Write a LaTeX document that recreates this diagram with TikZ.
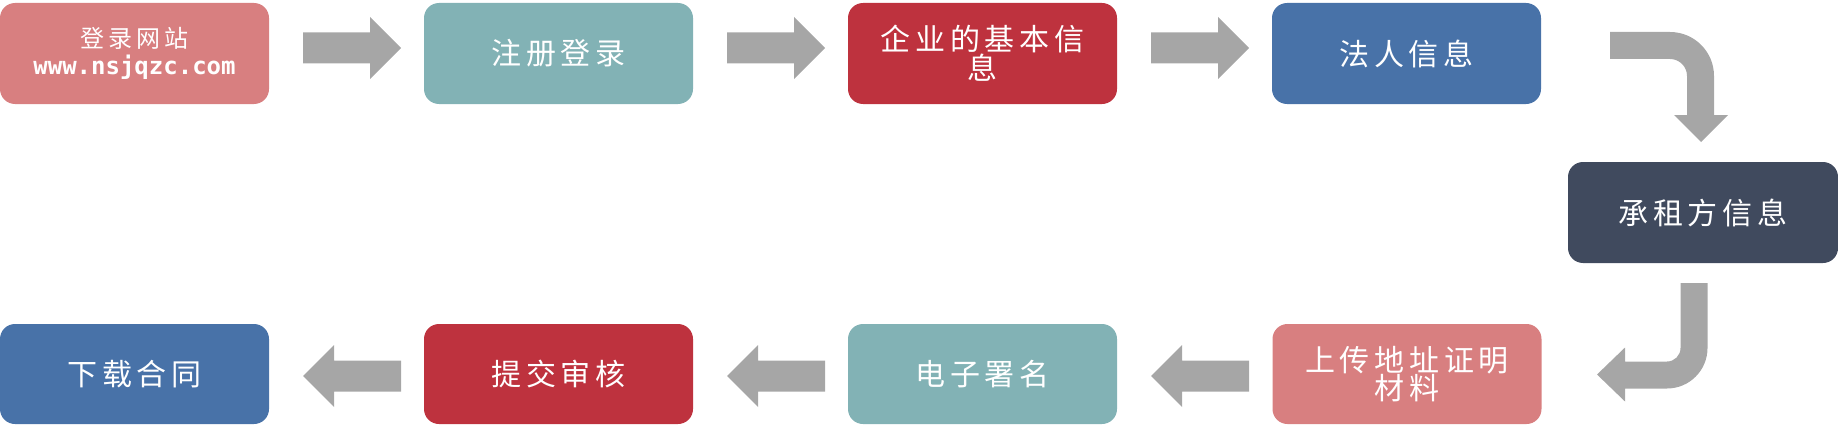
\documentclass[tikz,border=0pt]{standalone}
\usepackage{fontspec}
\setmainfont{Noto Sans CJK SC}
\newfontfamily\cjk[LetterSpace=16]{Noto Sans CJK SC}
\newfontfamily\cjksmall[LetterSpace=18]{Noto Sans CJK SC}
\newfontfamily\urlfont{DejaVu Sans Mono}
\usetikzlibrary{calc}
\definecolor{cpink}{HTML}{D87F80}
\definecolor{cteal}{HTML}{82B2B5}
\definecolor{cred}{HTML}{BE323E}
\definecolor{cblue}{HTML}{4872A8}
\definecolor{cdark}{HTML}{404A5E}
\definecolor{arrowgray}{HTML}{A6A6A6}
\newcommand\rightblock[1]{\fill[blockarrow] ($(#1)+(-49,-15.5)$) -- ++(67,0) -- ++(0,-15.5) -- ++(31,31) -- ++(-31,31) -- ++(0,-15.5) -- ++(-67,0) -- cycle;}
\newcommand\leftblock[1]{\fill[blockarrow] ($(#1)+(49,-15.5)$) -- ++(-67,0) -- ++(0,-15.5) -- ++(-31,31) -- ++(31,31) -- ++(0,-15.5) -- ++(67,0) -- cycle;}
\begin{document}
\begin{tikzpicture}[x=1pt,y=-1pt,
  box/.style={rounded corners=15pt, minimum width=269pt, minimum height=101pt, text=white, inner sep=0pt, align=center, font=\cjk\fontsize{30pt}{26pt}\selectfont},
  blockarrow/.style={fill=arrowgray}]
\useasboundingbox (0,0) rectangle (1838,428);
% top row
\node[box, fill=cpink, font=\fontsize{24pt}{27pt}\selectfont] (b1) at (134.5,53.5) {{\cjksmall 登录网站}\\{\urlfont\bfseries www.nsjqzc.com}};
\node[box, fill=cteal] (b2) at (558.5,53.5) {注册登录};
\node[box, fill=cred] (b3) at (982.5,53.5) {企业的基本信\\息};
\node[box, fill=cblue] (b4) at (1406.5,53.5) {法人信息};
% right
\node[box, fill=cdark, minimum width=270pt] (b5) at (1703,212.5) {承租方信息};
% bottom row
\node[box, fill=cpink, minimum height=100pt] (b6) at (1407,374) {上传地址证明\\材料};
\node[box, fill=cteal, minimum height=100pt] (b7) at (982.5,374) {电子署名};
\node[box, fill=cred, minimum height=100pt] (b8) at (558.5,374) {提交审核};
\node[box, fill=cblue, minimum height=100pt] (b9) at (134.5,374) {下载合同};
% straight arrows
\coordinate (a1) at ($(b1.east)+(83,-5.5)$);
\coordinate (a2) at ($(b2.east)+(83,-5.5)$);
\coordinate (a3) at ($(b3.east)+(83,-5.5)$);
\rightblock{a1}\rightblock{a2}\rightblock{a3}
\coordinate (a6) at ($(b7.east)+(83,2)$);
\coordinate (a7) at ($(b8.east)+(83,2)$);
\coordinate (a8) at ($(b9.east)+(83,2)$);
\leftblock{a6}\leftblock{a7}\leftblock{a8}
% bent arrows
\fill[blockarrow] (1610,32) -- (1670,32) arc[start angle=-90,end angle=0,radius=44] -- (1714,115) -- (1728,115) -- (1701,142) -- (1674,115) -- (1687,115) -- (1687,76) arc[start angle=0,end angle=-90,radius=17] -- (1610,59) -- cycle;
\fill[blockarrow] (1680.5,283) -- (1707.5,283) -- (1707.5,348) arc[start angle=0,end angle=90,radius=40.5] -- (1625,388.5) -- (1625,401.5) -- (1597,374.5) -- (1625,347.5) -- (1625,361.5) -- (1667,361.5) arc[start angle=90,end angle=0,radius=13.5] -- cycle;
\end{tikzpicture}
\end{document}
